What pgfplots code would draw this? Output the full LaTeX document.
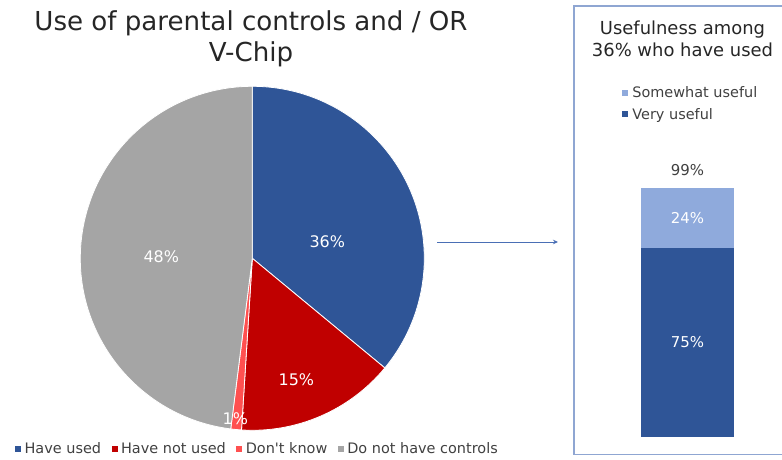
\documentclass[border=0pt]{standalone}
\usepackage{fontspec}
\setmainfont{DejaVu Sans}[Ligatures=TeXOff]
\usepackage{pgfplots}
\usepackage{pgfplotstable}
\pgfplotsset{compat=1.18}
\usetikzlibrary{arrows.meta}

\definecolor{cBlue}{HTML}{2F5597}
\definecolor{cRed}{HTML}{C00000}
\definecolor{cPink}{HTML}{FF5050}
\definecolor{cGray}{HTML}{A5A5A5}
\definecolor{cLight}{HTML}{8FAADC}
\definecolor{cBox}{HTML}{8FA6D2}
\definecolor{cArrow}{HTML}{4A6FB5}
\definecolor{cText}{HTML}{404040}

% pie slices, clockwise from 12 o'clock; lx ly = label position (radius 1)
\pgfplotstableread{
value color lx ly
36 cBlue 0.436 0.099
15 cRed 0.256 -0.703
1 cPink -0.099 -0.930
48 cGray -0.529 0.009
}\piedata

% usefulness among those who have used
\pgfplotstableread{
x very somewhat
0 75 24
}\usedata

\pgfplotsset{
  sq legend/.style={
    legend image code/.code={\fill[##1, draw=none] (0bp,-3bp) rectangle (6bp,3bp);}},
}

\begin{document}
\begin{tikzpicture}
\useasboundingbox (0,0) rectangle (782bp,460bp);

% ---- pie ----
\begin{axis}[
  at={(252.3bp,201.7bp)}, anchor=origin,
  x=172bp, y=172bp,
  xmin=-1, xmax=1, ymin=-1, ymax=1,
  hide axis, clip=false,
  sq legend,
  legend columns=-1,
  legend style={at={(-0.19,-0.055)}, anchor=west, draw=none, fill=none,
    inner sep=0pt, font=\fontsize{14.5}{17}\selectfont, text=cText,
    nodes={inner sep=0.5bp},
    /tikz/every odd column/.append style={column sep=3bp},
    /tikz/every even column/.append style={column sep=10bp}},
]
\addlegendimage{fill=cBlue}\addlegendentry{Have used}
\addlegendimage{fill=cRed}\addlegendentry{Have not used}
\addlegendimage{fill=cPink}\addlegendentry{Don't know}
\addlegendimage{fill=cGray}\addlegendentry{Do not have controls}

\def\astart{90}
\pgfplotsforeachungrouped \i in {0,1,2,3}{%
  \pgfplotstablegetelem{\i}{value}\of\piedata \let\pv\pgfplotsretval
  \pgfplotstablegetelem{\i}{color}\of\piedata \let\pc\pgfplotsretval
  \pgfmathsetmacro\aend{\astart-3.6*\pv}%
  \edef\slice{\noexpand\fill[\pc, draw=white, line width=0.8bp]
    (axis cs:0,0) -- (axis cs:{cos(\astart)},{sin(\astart)})
    arc[start angle=\astart, end angle=\aend, radius=172bp] -- cycle;}%
  \slice
  \let\astart\aend
}
\pgfplotsforeachungrouped \i in {0,1,2,3}{%
  \pgfplotstablegetelem{\i}{value}\of\piedata \let\pv\pgfplotsretval
  \pgfplotstablegetelem{\i}{lx}\of\piedata \let\plx\pgfplotsretval
  \pgfplotstablegetelem{\i}{ly}\of\piedata \let\ply\pgfplotsretval
  \edef\lab{\noexpand\node[text=white, inner sep=0pt,
    font=\noexpand\fontsize{16}{19}\noexpand\selectfont]
    at (axis cs:\plx,\ply) {\pv\noexpand\%};}%
  \lab
}
\end{axis}

% ---- usefulness bar ----
\pgfplotstablegetelem{0}{very}\of\usedata \let\uv\pgfplotsretval
\pgfplotstablegetelem{0}{somewhat}\of\usedata \let\us\pgfplotsretval
\pgfmathsetmacro\midv{\uv/2}
\pgfmathsetmacro\mids{\uv+\us/2}
\pgfmathtruncatemacro\tot{\uv+\us}
\begin{axis}[
  at={(687.5bp,23bp)}, anchor=origin,
  x=47bp, y=2.52bp,
  xmin=-1, xmax=1, ymin=0, ymax=110,
  hide axis, clip=false,
  ybar stacked, bar width=93bp,
  sq legend, reverse legend,
  legend style={at={(-0.2,1.27)}, anchor=north west, draw=none, fill=none,
    inner sep=0pt, font=\fontsize{14.5}{17}\selectfont, text=cText,
    nodes={inner sep=1.5bp}, row sep=6bp,
    /tikz/every odd column/.append style={column sep=3bp}},
  legend cell align=left,
]
\addplot[fill=cBlue, draw=none] table[x=x, y=very] {\usedata};
\addlegendentry{Very useful}
\addplot[fill=cLight, draw=none] table[x=x, y=somewhat] {\usedata};
\addlegendentry{Somewhat useful}
\coordinate (pv) at (axis cs:0,\midv);
\coordinate (ps) at (axis cs:0,\mids);
\coordinate (pt) at (axis cs:0,\tot);
\end{axis}
\node[text=white, font=\fontsize{15}{18}\selectfont] at (pv) {\uv\%};
\node[text=white, font=\fontsize{15}{18}\selectfont] at (ps) {\us\%};
\node[anchor=base, text=cText, font=\fontsize{15}{18}\selectfont]
  at ([yshift=12.5bp]pt) {\tot\%};

% ---- titles, arrow, frame ----
\node[anchor=base, text=black!85, font=\fontsize{26.2}{30}\selectfont]
  at (251bp,429.5bp) {Use of parental controls and / OR};
\node[anchor=base, text=black!85, font=\fontsize{26.2}{30}\selectfont]
  at (251bp,398.3bp) {V-Chip};
\node[anchor=base, text=black!85, font=\fontsize{18}{22}\selectfont]
  at (682.5bp,425bp) {Usefulness among};
\node[anchor=base, text=black!85, font=\fontsize{18}{22}\selectfont]
  at (682.5bp,403.3bp) {36\% who have used};
\draw[cArrow, line width=0.75bp, -{Stealth[length=5bp,width=4.5bp]}]
  (437bp,218bp) -- (558bp,218bp);
\draw[cBox, line width=1.5bp] (574bp,5.5bp) rectangle (800bp,454bp);
\end{tikzpicture}
\end{document}
